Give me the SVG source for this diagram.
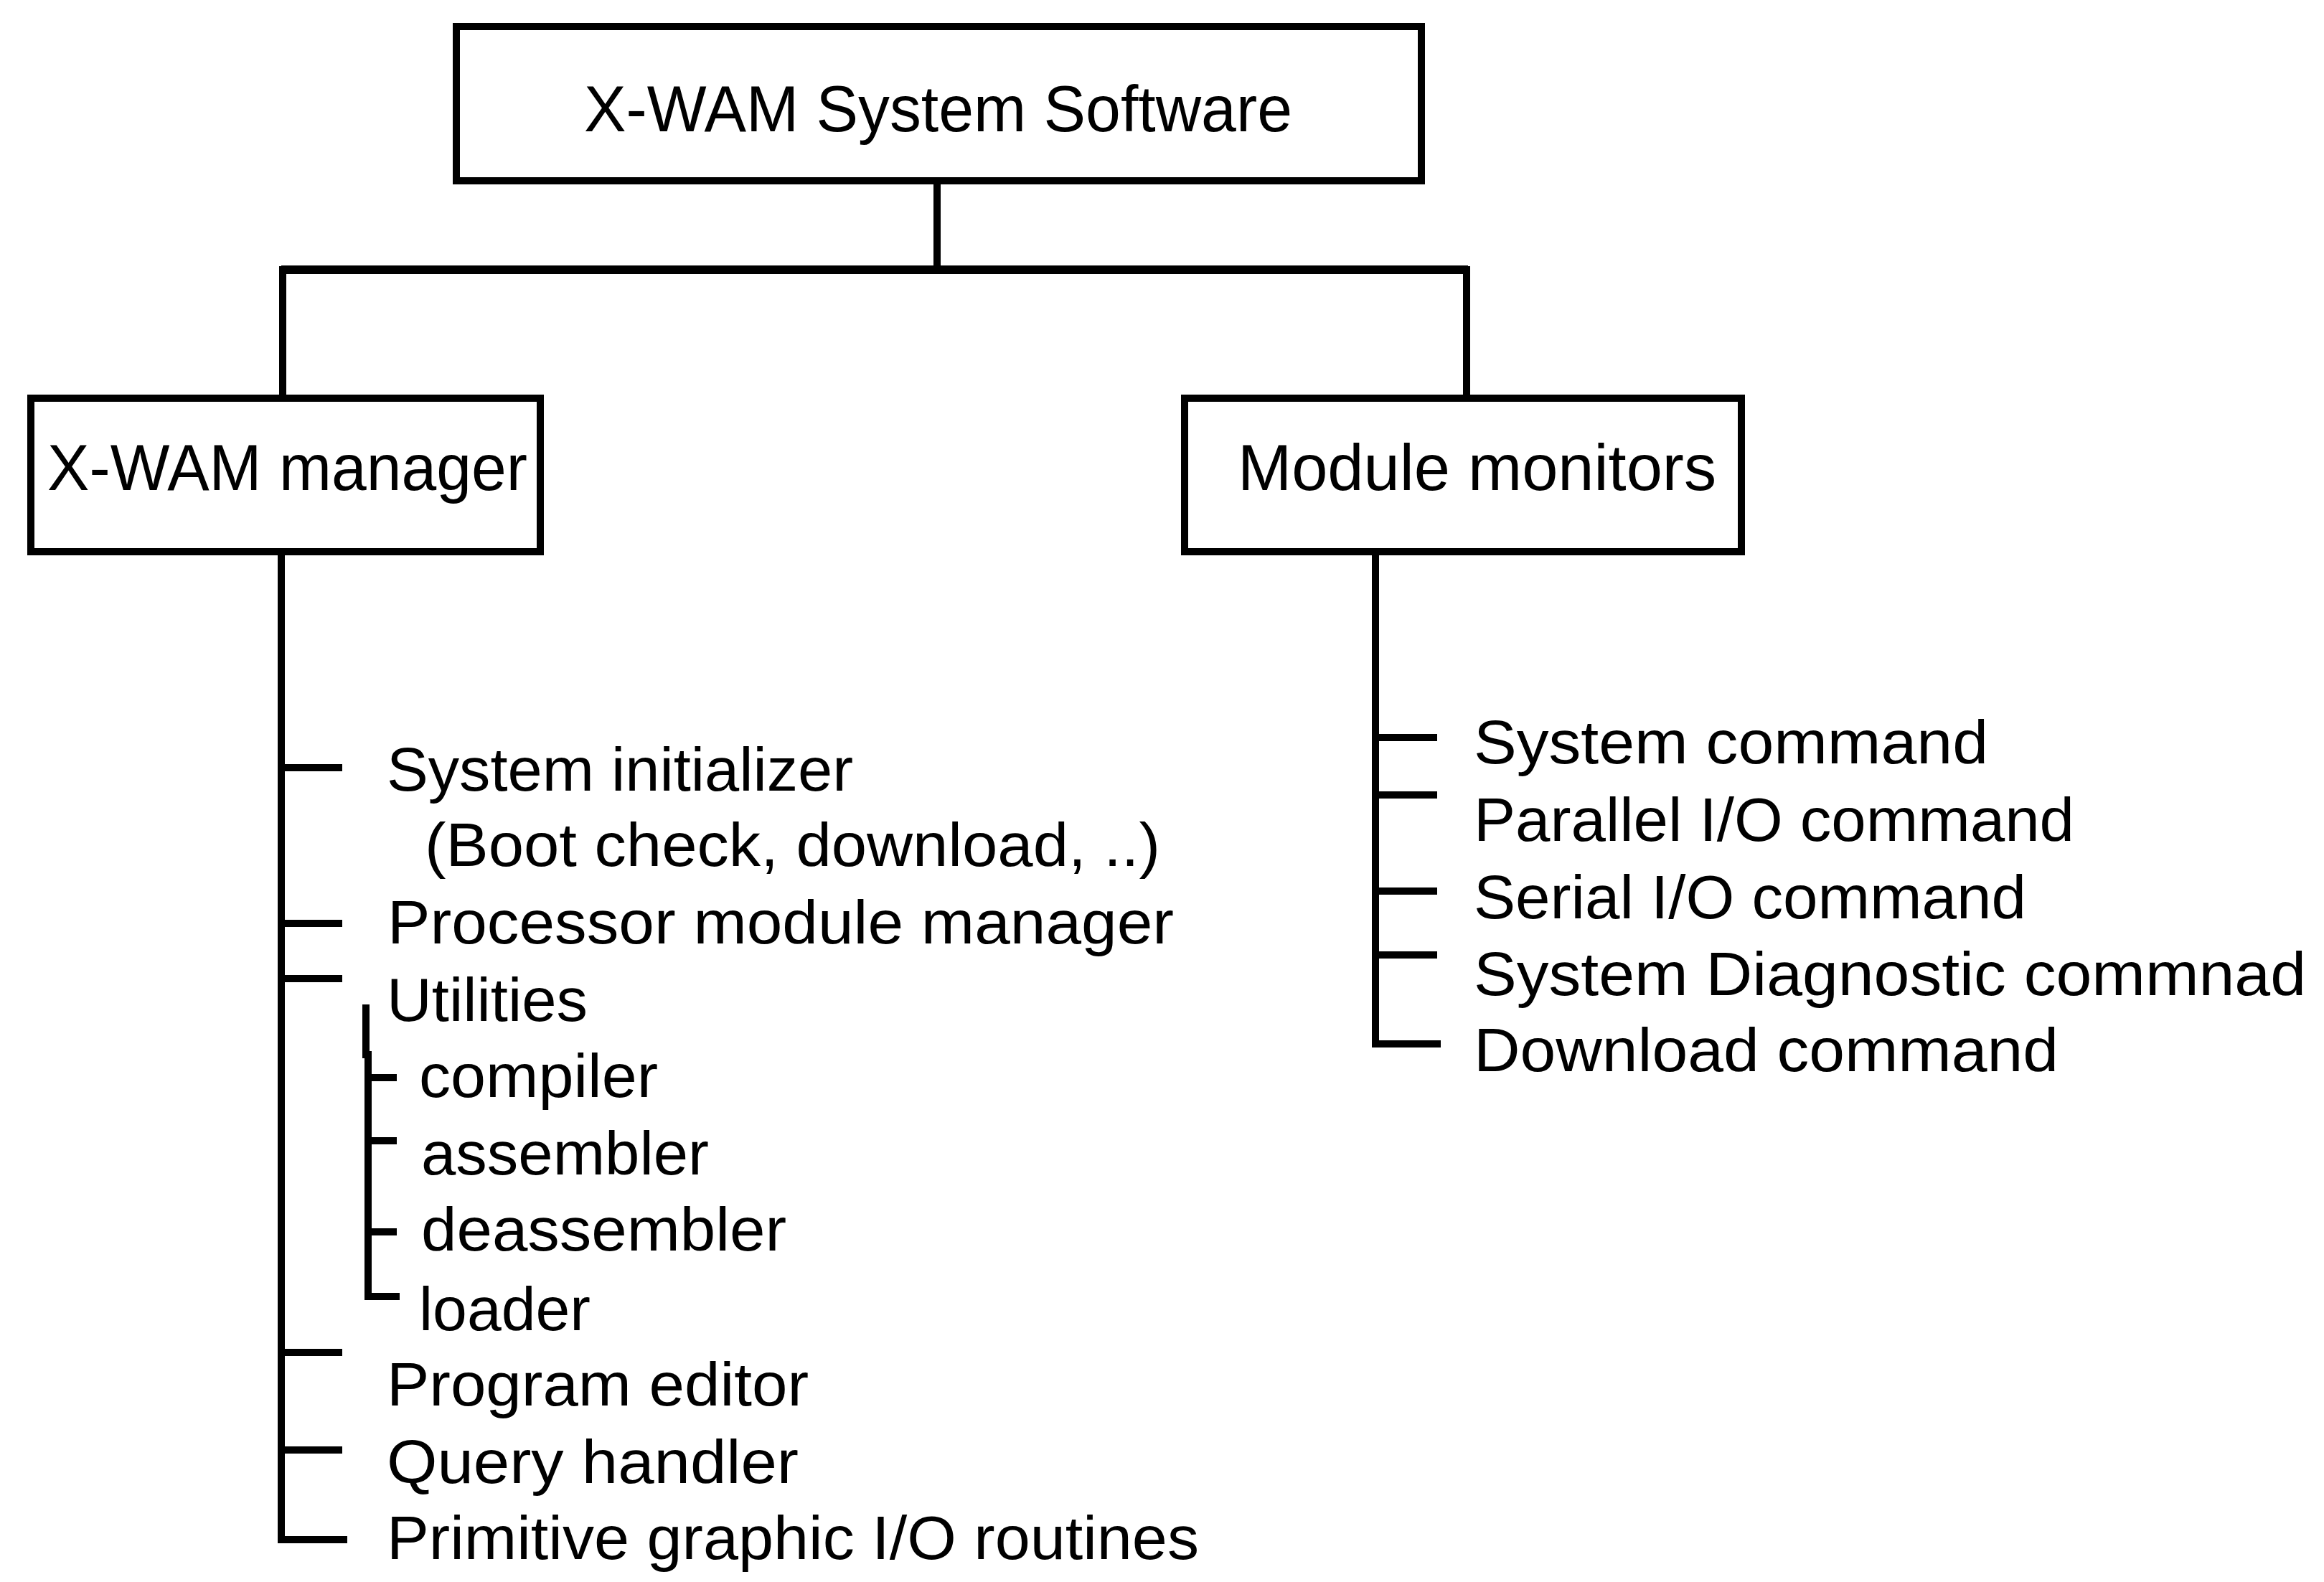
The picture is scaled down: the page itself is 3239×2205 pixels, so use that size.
<svg xmlns="http://www.w3.org/2000/svg" width="3239" height="2205" viewBox="0 0 3239 2205">
  <style>
    .box { fill: #ffffff; stroke: #000000; stroke-width: 10; }
    .lbl { font-family: "Liberation Sans", Arial, Helvetica, sans-serif; font-size: 90px; fill: #000000; }
    .item { font-family: "Liberation Sans", Arial, Helvetica, sans-serif; font-size: 86px; fill: #000000; }
    .wire { fill: none; stroke: #000000; stroke-width: 10; stroke-linecap: square; }
    .tick { fill: none; stroke: #000000; stroke-width: 10; stroke-linecap: butt; }
  </style>
  <rect width="3239" height="2205" fill="#ffffff"/>

  <!-- tree connectors -->
  <g id="connectors">
    <path class="wire" d="M1306 257 V376"/>
    <path class="tick" style="stroke-width:12" d="M392 376 H2046"/>
    <path class="wire" d="M394 376 V549"/>
    <path class="wire" d="M2044 376 V549"/>

    <!-- X-WAM manager branch -->
    <path class="wire" d="M392 775 V2146 H479"/>
    <path class="tick" d="M392 1070 H477 M392 1287 H477 M392 1364 H477 M392 1885 H477 M392 2021 H477"/>
    <!-- utilities sub-branch -->
    <path class="wire" d="M510 1405 V1470"/>
    <path class="wire" d="M513 1470 V1807 H552"/>
    <path class="tick" d="M513 1502 H553 M513 1590 H553 M513 1717 H553"/>

    <!-- Module monitors branch -->
    <path class="wire" d="M1917 775 V1455 H2003"/>
    <path class="tick" d="M1917 1028 H2003 M1917 1108 H2003 M1917 1242 H2003 M1917 1331 H2003"/>
  </g>

  <g id="node-system-software">
    <rect class="box" x="636" y="37" width="1345" height="215"/>
    <text class="lbl" x="814" y="183" textLength="987" lengthAdjust="spacingAndGlyphs">X-WAM System Software</text>
  </g>

  <g id="node-xwam-manager">
    <rect class="box" x="43" y="555" width="710" height="214"/>
    <text class="lbl" x="66" y="683" textLength="669" lengthAdjust="spacingAndGlyphs">X-WAM manager</text>
  </g>

  <g id="node-module-monitors">
    <rect class="box" x="1651" y="555" width="776" height="214"/>
    <text class="lbl" x="1725" y="683" textLength="667" lengthAdjust="spacingAndGlyphs">Module monitors</text>
  </g>

  <g id="manager-items">
    <text class="item" x="539" y="1102" textLength="650" lengthAdjust="spacingAndGlyphs">System initializer</text>
    <text class="item" x="592" y="1207" textLength="1025" lengthAdjust="spacingAndGlyphs">(Boot check, download, ..)</text>
    <text class="item" x="540" y="1315" textLength="1096" lengthAdjust="spacingAndGlyphs">Processor module manager</text>
    <text class="item" x="539" y="1423" textLength="280" lengthAdjust="spacingAndGlyphs">Utilities</text>
    <text class="item" x="584" y="1529" textLength="333" lengthAdjust="spacingAndGlyphs">compiler</text>
    <text class="item" x="587" y="1637" textLength="401" lengthAdjust="spacingAndGlyphs">assembler</text>
    <text class="item" x="587" y="1743" textLength="509" lengthAdjust="spacingAndGlyphs">deassembler</text>
    <text class="item" x="584" y="1854" textLength="239" lengthAdjust="spacingAndGlyphs">loader</text>
    <text class="item" x="539" y="1959" textLength="588" lengthAdjust="spacingAndGlyphs">Program editor</text>
    <text class="item" x="539" y="2067" textLength="574" lengthAdjust="spacingAndGlyphs">Query handler</text>
    <text class="item" x="539" y="2173" textLength="1132" lengthAdjust="spacingAndGlyphs">Primitive graphic I/O routines</text>
  </g>

  <g id="monitor-items">
    <text class="item" x="2054" y="1064" textLength="717" lengthAdjust="spacingAndGlyphs">System command</text>
    <text class="item" x="2054" y="1172" textLength="837" lengthAdjust="spacingAndGlyphs">Parallel I/O command</text>
    <text class="item" x="2054" y="1280" textLength="770" lengthAdjust="spacingAndGlyphs">Serial I/O command</text>
    <text class="item" x="2054" y="1387" textLength="1160" lengthAdjust="spacingAndGlyphs">System Diagnostic commnad</text>
    <text class="item" x="2054" y="1493" textLength="815" lengthAdjust="spacingAndGlyphs">Download command</text>
  </g>
</svg>
